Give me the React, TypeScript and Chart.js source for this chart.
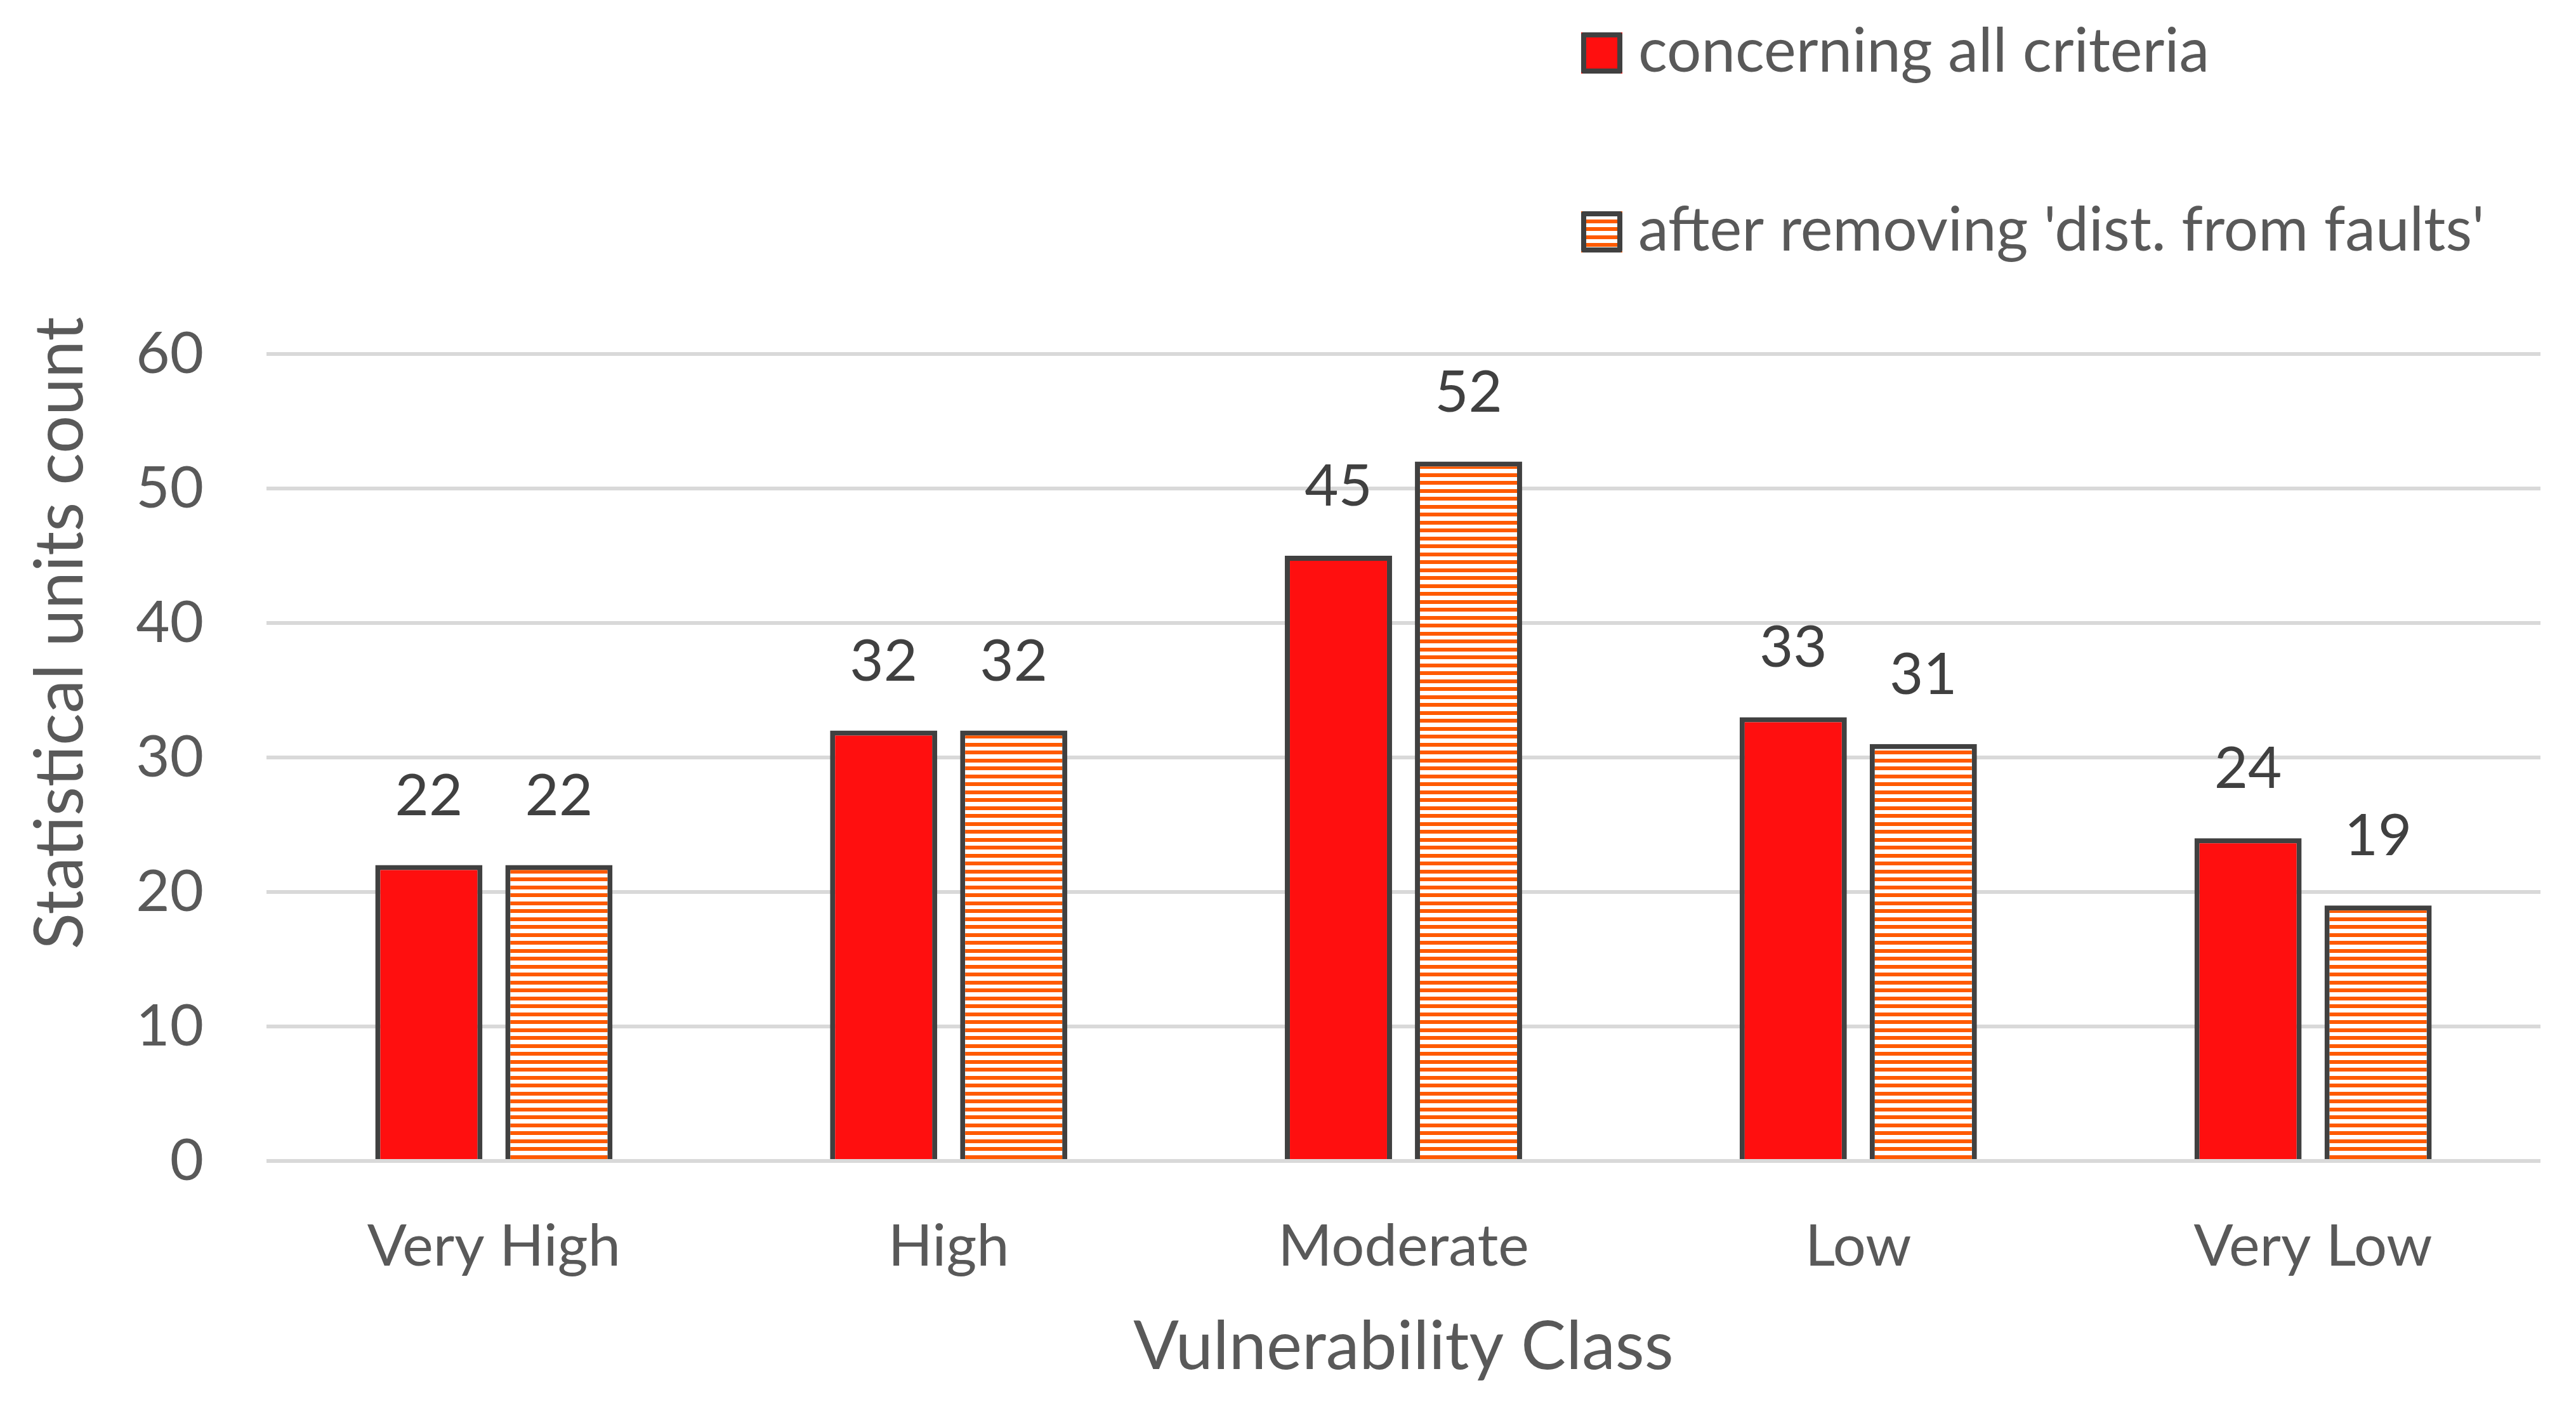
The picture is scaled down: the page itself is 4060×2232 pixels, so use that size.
import React, { useEffect, useRef } from "react";
import { Chart, registerables } from "chart.js";

Chart.register(...registerables);

const categories = ["Very High", "High", "Moderate", "Low", "Very Low"];
const allCriteria = [22, 32, 45, 33, 24];
const afterRemoving = [22, 32, 52, 31, 19];
const seriesLabels = ["concerning all criteria", "after removing 'dist. from faults'"];
const yTicks = [0, 10, 20, 30, 40, 50, 60];
const xTitle = "Vulnerability Class";
const yTitle = "Statistical units count";

const FONT = "Lato, 'Open Sans', sans-serif";
const RED = "#FF0F0F";
const ORANGE = "#FF5A00";
const BORDER = "#404040";
const TEXT = "#595959";

function makeStripePattern(): CanvasPattern | string {
  const c = document.createElement("canvas");
  c.width = 8;
  c.height = 25;
  const g = c.getContext("2d");
  if (!g) return ORANGE;
  g.fillStyle = "#FFFFFF";
  g.fillRect(0, 0, 8, 25);
  g.fillStyle = ORANGE;
  g.fillRect(0, 0, 8, 6);
  g.fillRect(0, 13, 8, 6);
  const p = g.createPattern(c, "repeat");
  return p || ORANGE;
}

const valueLabelPlugin = {
  id: "valueLabels",
  afterDatasetsDraw(chart: any) {
    const ctx = chart.ctx;
    ctx.save();
    ctx.font = `92px ${FONT}`;
    ctx.fillStyle = BORDER;
    ctx.textAlign = "center";
    ctx.textBaseline = "alphabetic";
    chart.data.datasets.forEach((ds: any, i: number) => {
      const meta = chart.getDatasetMeta(i);
      meta.data.forEach((el: any, j: number) => {
        ctx.fillText(String(ds.data[j]), el.x, el.y - 79);
      });
    });
    ctx.restore();
  },
};

const legendPlugin = {
  id: "stackedLegend",
  afterDraw(chart: any) {
    const ctx = chart.ctx;
    ctx.save();
    chart.data.datasets.forEach((ds: any, i: number) => {
      const bx = 2484;
      const by = 43 + i * 282;
      const bw = 65;
      const bh = 65;
      ctx.fillStyle = ds.backgroundColor;
      ctx.fillRect(bx, by, bw, bh);
      ctx.lineWidth = 8;
      ctx.strokeStyle = BORDER;
      ctx.lineJoin = "round";
      ctx.strokeRect(bx + 4, by + 4, bw - 8, bh - 8);
      ctx.font = `96px ${FONT}`;
      ctx.fillStyle = TEXT;
      ctx.textAlign = "left";
      ctx.textBaseline = "alphabetic";
      ctx.fillText(ds.label, 2574, 105 + i * 282);
    });
    ctx.restore();
  },
};

const axisTitlePlugin = {
  id: "axisTitles",
  afterDraw(chart: any) {
    const ctx = chart.ctx;
    const area = chart.chartArea;
    ctx.save();
    ctx.font = `106px ${FONT}`;
    ctx.fillStyle = TEXT;
    ctx.textAlign = "center";
    ctx.textBaseline = "alphabetic";
    ctx.fillText(xTitle, (area.left + area.right) / 2, 2150);
    ctx.translate(122, 990);
    ctx.rotate(-Math.PI / 2);
    ctx.fillText(yTitle, 0, 0);
    ctx.restore();
  },
};

export default function App() {
  const ref = useRef<HTMLCanvasElement | null>(null);

  useEffect(() => {
    if (!ref.current) return;
    const stripes = makeStripePattern();
    const chart = new Chart(ref.current, {
      type: "bar",
      data: {
        labels: categories,
        datasets: [
          {
            label: seriesLabels[0],
            data: allCriteria,
            backgroundColor: RED,
            borderColor: BORDER,
            borderWidth: 8,
            categoryPercentage: 0.572,
            barPercentage: 0.824,
          },
          {
            label: seriesLabels[1],
            data: afterRemoving,
            backgroundColor: stripes as any,
            borderColor: BORDER,
            borderWidth: 8,
            categoryPercentage: 0.572,
            barPercentage: 0.824,
          },
        ],
      },
      options: {
        animation: false,
        responsive: true,
        maintainAspectRatio: false,
        devicePixelRatio: 1,
        layout: { padding: { left: 0, right: 48, top: 550, bottom: 0 } },
        plugins: {
          legend: { display: false },
          tooltip: { enabled: false },
          title: { display: false },
        },
        scales: {
          x: {
            grid: { display: false },
            border: { display: false },
            ticks: {
              color: TEXT,
              font: { family: FONT, size: 92 },
              padding: 72,
              maxRotation: 0,
              autoSkip: false,
            },
            afterFit(scale: any) {
              scale.height = 394;
            },
          },
          y: {
            min: 0,
            max: 60,
            grid: { color: "#D9D9D9", lineWidth: 6, drawTicks: false },
            border: { display: false },
            ticks: {
              color: TEXT,
              font: { family: FONT, size: 92 },
              padding: 99,
              stepSize: 10,
            },
            afterBuildTicks(scale: any) {
              scale.ticks = yTicks.map((v) => ({ value: v }));
            },
            afterFit(scale: any) {
              scale.width = 412;
            },
          },
        },
      },
      plugins: [valueLabelPlugin, legendPlugin, axisTitlePlugin],
    });
    return () => chart.destroy();
  }, []);

  return (
    <div style={{ width: "4044px", height: "2216px", position: "relative" }}>
      <canvas ref={ref} />
    </div>
  );
}
